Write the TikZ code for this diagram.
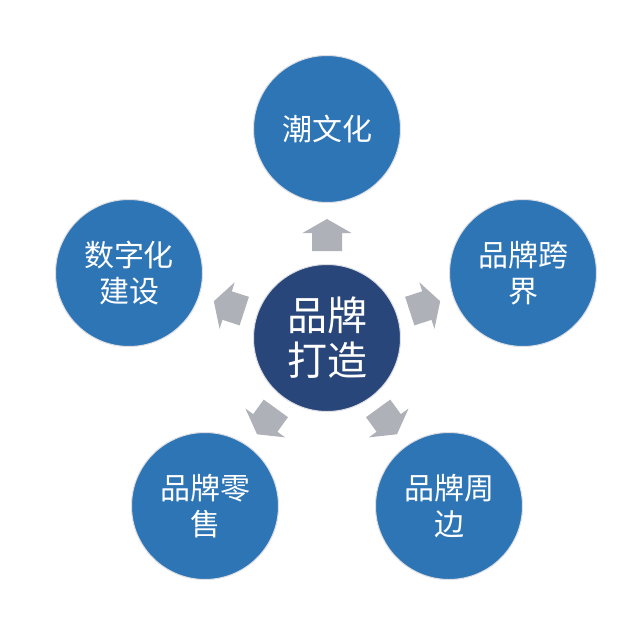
\documentclass[tikz,border=0pt]{standalone}
\usepackage{fontspec}
\newfontfamily\cjk{Noto Sans CJK SC}
\definecolor{outerblue}{HTML}{2E75B6}
\definecolor{innerblue}{HTML}{284679}
\definecolor{arrowgray}{HTML}{AEB1B8}
\definecolor{rimgray}{HTML}{DCDEE3}
\begin{document}
\begin{tikzpicture}[x=1pt,y=-1pt,
  outer/.style={circle,fill=outerblue,draw=rimgray,line width=1pt,minimum size=147pt,inner sep=0pt,
    text=white,align=center,font=\cjk\fontsize{30}{36}\selectfont},
  inner/.style={circle,fill=innerblue,draw=rimgray,line width=1pt,minimum size=147pt,inner sep=0pt,
    text=white,align=center,font=\cjk\fontsize{40}{45}\selectfont},
  blockarrow/.style={fill=arrowgray}]
\useasboundingbox (0,0) rectangle (630,630);
\node[inner] (c) at (327,338) {品牌\\打造};
\node[outer] (t) at (327,129) {潮文化};
\node[outer] (rt) at (523,273) {品牌跨\\界};
\node[outer] (lt) at (129,273) {数字化\\建设};
\node[outer] (br) at (449,506) {品牌周\\边};
\node[outer] (bl) at (205,506) {品牌零\\售};
\foreach \a in {90,18,-54,-126,162}{
  \begin{scope}[shift={(c.center)},rotate=\a]
    \fill[blockarrow] (87,-15) -- (105,-15) -- (105,-24.5) -- (119,0) -- (105,24.5) -- (105,15) -- (87,15) -- cycle;
  \end{scope}
}
\end{tikzpicture}
\end{document}
